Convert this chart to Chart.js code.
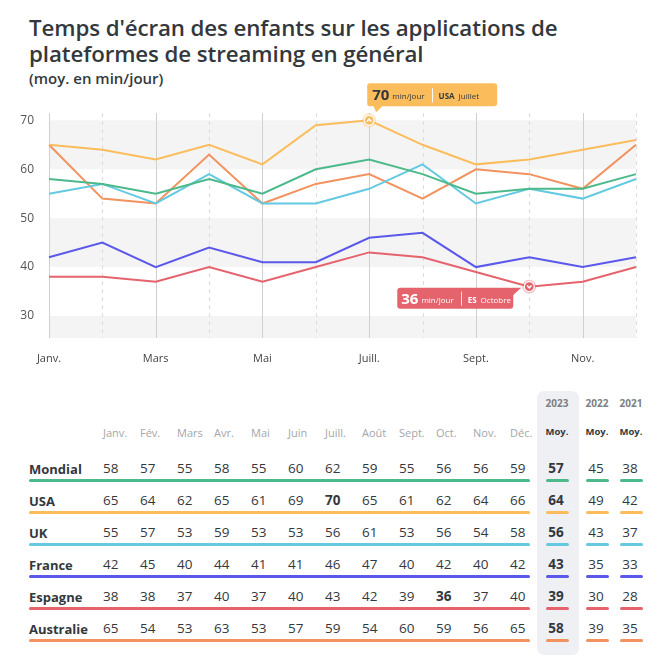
<!DOCTYPE html>
<html>
<head>
<meta charset="utf-8">
<script src="https://cdn.jsdelivr.net/npm/chart.js@4"></script>
<style>
  html, body { margin: 0; padding: 0; background: #fff; }
  body { width: 667px; height: 667px; position: relative; overflow: hidden; font-family: "Open Sans", sans-serif; color: #33383d; }
  .title { position: absolute; left: 29px; top: 15px; font-size: 22.3px; font-weight: 600; line-height: 26px; letter-spacing: -0.1px; }
  .subtitle { position: absolute; left: 29px; top: 68px; font-size: 15px; font-weight: 600; }
  #chartBox { position: absolute; left: 0; top: 80px; width: 667px; height: 285px; }
  .cell { position: absolute; white-space: nowrap; }
  .hdr { font-size: 11px; color: #a3a6aa; }
  .lab { font-size: 13px; font-weight: 700; color: #33383d; }
  .val { font-size: 13.5px; color: #33383d; }
  .avgcol { position: absolute; left: 537px; top: 391px; width: 42px; height: 264px; background: #eff0f4; border-radius: 7px; }
  .line { position: absolute; height: 3px; border-radius: 2px; }
</style>
</head>
<body>
<div class="title">Temps d'écran des enfants sur les applications de<br>plateformes de streaming en général</div>
<div class="subtitle">(moy. en min/jour)</div>
<div id="chartBox"><canvas id="lineChart"></canvas></div>
<div class="avgcol"></div>
<div id="table"></div>
<script>
// data
const months = ['Janv.', 'Fév.', 'Mars', 'Avr.', 'Mai', 'Juin', 'Juill.', 'Août', 'Sept.', 'Oct.', 'Nov.', 'Déc.'];
const countries = ['Mondial', 'USA', 'UK', 'France', 'Espagne', 'Australie'];
const mondial   = [58, 57, 55, 58, 55, 60, 62, 59, 55, 56, 56, 59];
const usa       = [65, 64, 62, 65, 61, 69, 70, 65, 61, 62, 64, 66];
const uk        = [55, 57, 53, 59, 53, 53, 56, 61, 53, 56, 54, 58];
const france    = [42, 45, 40, 44, 41, 41, 46, 47, 40, 42, 40, 42];
const espagne   = [38, 38, 37, 40, 37, 40, 43, 42, 39, 36, 37, 40];
const australie = [65, 54, 53, 63, 53, 57, 59, 54, 60, 59, 56, 65];
const avg2023 = [57, 64, 56, 43, 39, 58];
const avg2022 = [45, 49, 43, 35, 30, 39];
const avg2021 = [38, 42, 37, 33, 28, 35];
const yTicks = [30, 40, 50, 60, 70];
const colors = ['#4cb98a', '#fbbd5c', '#64c9e1', '#5b58ea', '#e5636d', '#f1925f'];
// highlighted points: [series index, month index, code, month name]
const maxPoint = [1, 6, 'USA', 'Juillet'];
const minPoint = [4, 9, 'ES', 'Octobre'];

const series = [mondial, usa, uk, france, espagne, australie];

// table
const table = document.getElementById('table');
function addCell(cls, text, x, y, align, bold) {
    const d = document.createElement('div');
    d.className = 'cell ' + cls;
    d.textContent = text;
    d.style.top = y + 'px';
    if (align === 'center') {
        d.style.left = (x - 30) + 'px';
        d.style.width = '60px';
        d.style.textAlign = 'center';
    } else {
        d.style.left = x + 'px';
    }
    if (bold) d.style.fontWeight = '700';
    table.appendChild(d);
    return d;
}
const avgX = [557, 597, 631];
months.forEach((m, i) => addCell('hdr', m, 103 + 37 * i, 425));
['2023', '2022', '2021'].forEach((yr, k) => {
    const c = addCell('hdr', yr, avgX[k], 396, 'center', true);
    c.style.fontSize = '10px';
    c.style.color = '#7d8085';
    const mo = addCell('hdr', 'Moy.', avgX[k], 425, 'center', true);
    mo.style.fontSize = '9.5px';
    mo.style.color = '#33383d';
});
countries.forEach((c, r) => {
    const y = 460 + 32 * r;
    addCell('lab', c, 29, y);
    series[r].forEach((v, i) => {
        const bold = (r === maxPoint[0] && i === maxPoint[1]) || (r === minPoint[0] && i === minPoint[1]);
        addCell('val', v, 103 + 37 * i, y - 1, 'left', bold);
    });
    [avg2023, avg2022, avg2021].forEach((arr, k) => {
        addCell('val', arr[r], avgX[k] - 1, y - 1, 'center', k === 0);
    });
    const ln = document.createElement('div');
    ln.className = 'line';
    ln.style.left = '29px'; ln.style.width = '501px';
    ln.style.top = (y + 19) + 'px';
    ln.style.background = colors[r];
    table.appendChild(ln);
    avgX.forEach(x => {
        const s = document.createElement('div');
        s.className = 'line';
        s.style.left = (x - 11) + 'px'; s.style.width = '23px';
        s.style.top = (y + 19) + 'px';
        s.style.background = colors[r];
        table.appendChild(s);
    });
});

// background bands + vertical grid lines
const bandsPlugin = {
    id: 'bands',
    beforeDatasetsDraw(chart) {
        const { ctx, chartArea, scales } = chart;
        const ys = scales.y, xs = scales.x;
        ctx.save();
        ctx.fillStyle = '#f4f4f4';
        [[60, 70], [40, 50], [20, 30]].forEach(([lo, hi]) => {
            const y1 = Math.max(ys.getPixelForValue(hi), chartArea.top);
            const y2 = Math.min(ys.getPixelForValue(lo), chartArea.bottom);
            ctx.fillRect(chartArea.left, y1, chartArea.right - chartArea.left, y2 - y1);
        });
        months.forEach((m, i) => {
            const x = Math.round(xs.getPixelForValue(i)) + 0.5;
            ctx.beginPath();
            if (i % 2 === 0) {
                ctx.setLineDash([]);
                ctx.strokeStyle = '#d0d0d0';
            } else {
                ctx.setLineDash([4, 4]);
                ctx.strokeStyle = '#dcdcdc';
            }
            ctx.lineWidth = 1;
            ctx.moveTo(x, chartArea.top);
            ctx.lineTo(x, chartArea.bottom);
            ctx.stroke();
        });
        ctx.restore();
    }
};

function roundRect(ctx, x, y, w, h, r) {
    ctx.beginPath();
    ctx.moveTo(x + r, y);
    ctx.arcTo(x + w, y, x + w, y + h, r);
    ctx.arcTo(x + w, y + h, x, y + h, r);
    ctx.arcTo(x, y + h, x, y, r);
    ctx.arcTo(x, y, x + w, y, r);
    ctx.closePath();
}

function drawMarker(ctx, x, y, color, up) {
    ctx.save();
    ctx.beginPath();
    ctx.arc(x, y, 7, 0, Math.PI * 2);
    ctx.fillStyle = color + '66';
    ctx.fill();
    ctx.beginPath();
    ctx.arc(x, y, 5, 0, Math.PI * 2);
    ctx.fillStyle = color;
    ctx.fill();
    ctx.strokeStyle = '#fff';
    ctx.lineWidth = 1.2;
    ctx.stroke();
    ctx.beginPath();
    const d = up ? 1 : -1;
    ctx.moveTo(x - 2.2, y + 1.2 * d);
    ctx.lineTo(x, y - 1.2 * d);
    ctx.lineTo(x + 2.2, y + 1.2 * d);
    ctx.lineWidth = 1.4;
    ctx.stroke();
    ctx.restore();
}

function drawLabel(ctx, x, y, value, code, month, textColor, sepColor) {
    ctx.save();
    ctx.textBaseline = 'alphabetic';
    ctx.fillStyle = textColor;
    ctx.font = '700 15px "Open Sans", sans-serif';
    ctx.fillText(String(value), x, y);
    let cx = x + ctx.measureText(String(value)).width + 3;
    ctx.font = '400 8px "Open Sans", sans-serif';
    ctx.fillText('min/jour', cx, y - 1);
    cx += ctx.measureText('min/jour').width + 7;
    ctx.strokeStyle = sepColor;
    ctx.lineWidth = 1;
    ctx.beginPath();
    ctx.moveTo(Math.round(cx) + 0.5, y - 12);
    ctx.lineTo(Math.round(cx) + 0.5, y + 2);
    ctx.stroke();
    cx += 7;
    ctx.font = '700 8px "Open Sans", sans-serif';
    ctx.fillText(code, cx, y - 1);
    cx += ctx.measureText(code).width + 4;
    ctx.font = '400 8px "Open Sans", sans-serif';
    ctx.fillText(month, cx, y - 1);
    ctx.restore();
}

const calloutPlugin = {
    id: 'callouts',
    afterDatasetsDraw(chart) {
        const ctx = chart.ctx;
        // max point (box above right)
        let el = chart.getDatasetMeta(maxPoint[0]).data[maxPoint[1]];
        let px = el.x, py = el.y, col = colors[maxPoint[0]];
        ctx.save();
        ctx.fillStyle = col;
        roundRect(ctx, px - 2, py - 37, 130, 23, 3);
        ctx.fill();
        ctx.beginPath();
        ctx.moveTo(px + 4, py - 15);
        ctx.lineTo(px + 14, py - 15);
        ctx.lineTo(px + 7, py - 8);
        ctx.closePath();
        ctx.fill();
        ctx.restore();
        drawMarker(ctx, px, py, col, true);
        drawLabel(ctx, px + 3, py - 20, series[maxPoint[0]][maxPoint[1]], maxPoint[2], maxPoint[3], '#33383d', '#ffffff');

        // min point (box below left)
        el = chart.getDatasetMeta(minPoint[0]).data[minPoint[1]];
        px = el.x; py = el.y; col = colors[minPoint[0]];
        ctx.save();
        ctx.fillStyle = col;
        roundRect(ctx, px - 132, py + 1, 116, 21, 3);
        ctx.fill();
        ctx.beginPath();
        ctx.moveTo(px - 18, py + 1);
        ctx.lineTo(px - 8, py + 1);
        ctx.lineTo(px - 18, py + 10);
        ctx.closePath();
        ctx.fill();
        ctx.restore();
        drawMarker(ctx, px, py, col, false);
        drawLabel(ctx, px - 128, py + 17, series[minPoint[0]][minPoint[1]], minPoint[2], minPoint[3], '#ffffff', 'rgba(255,255,255,0.8)');
    }
};

const ctx = document.getElementById('lineChart').getContext('2d');
new Chart(ctx, {
    type: 'line',
    data: {
        labels: months,
        datasets: countries.map((c, i) => ({
            label: c,
            data: series[i],
            borderColor: colors[i],
            backgroundColor: colors[i],
            borderWidth: 2,
            pointRadius: 0,
            tension: 0,
            fill: false
        }))
    },
    options: {
        responsive: true,
        maintainAspectRatio: false,
        animation: false,
        layout: { padding: { left: 0, right: 31, top: 33, bottom: 0 } },
        plugins: { legend: { display: false }, tooltip: { enabled: false } },
        scales: {
            x: {
                grid: { display: false },
                border: { display: false },
                afterFit: scale => { scale.height = 27; },
                ticks: {
                    autoSkip: false,
                    maxRotation: 0,
                    padding: 6,
                    color: '#444',
                    font: { family: '"Open Sans", sans-serif', size: 11 },
                    callback: (v, i) => (i % 2 === 0 ? months[i] : '')
                }
            },
            y: {
                min: 25.5,
                max: 71.5,
                grid: { display: false },
                border: { display: false },
                afterFit: scale => { scale.width = 49; },
                afterBuildTicks: scale => { scale.ticks = yTicks.map(v => ({ value: v })); },
                ticks: {
                    padding: 7,
                    color: '#555',
                    font: { family: '"Open Sans", sans-serif', size: 12 }
                }
            }
        }
    },
    plugins: [bandsPlugin, calloutPlugin]
});
</script>
</body>
</html>
